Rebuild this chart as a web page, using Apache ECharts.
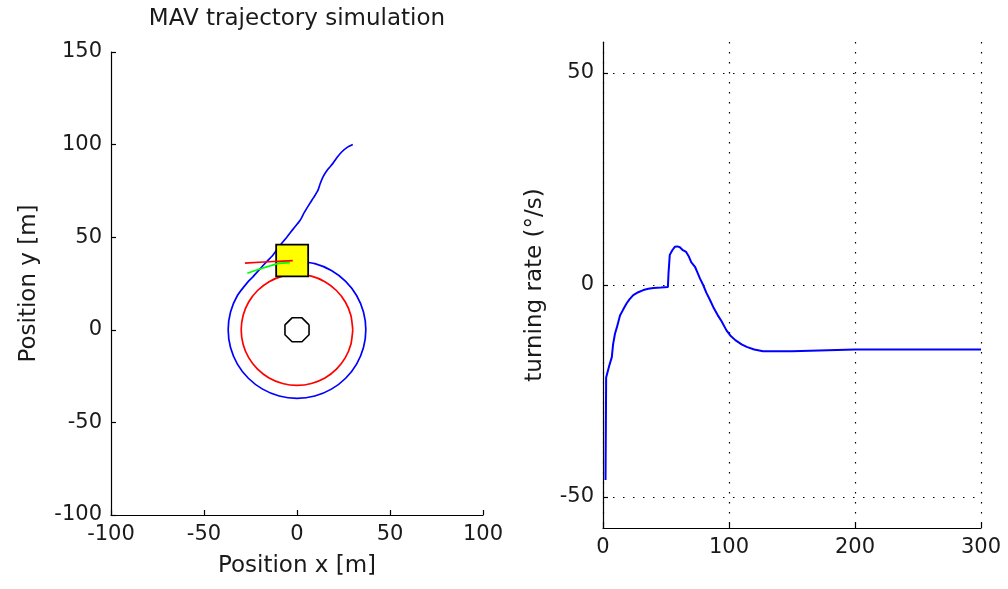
<!DOCTYPE html>
<html><head><meta charset="utf-8">
<script src="https://cdn.jsdelivr.net/npm/echarts@6/dist/echarts.min.js"></script>
<style>html,body{margin:0;padding:0;background:#fff}#c{width:1008px;height:589px}</style>
</head><body><div id="c"></div>
<script>
// ---- left plot: MAV trajectory (x, y in m) ----
const titleText = 'MAV trajectory simulation';
const leftXTicks = [-100, -50, 0, 50, 100];
const leftYTicks = [-100, -50, 0, 50, 100, 150];
// blue: approach trajectory then loiter circle (r ~ 37 m)
const trajectoryPath = [
  [30,100],[27,98.5],[24,96],[21.5,93],[19.4,90],[16.5,86.5],[14,82.6],[12.5,79],[11.3,75.4],[9,71.5],[7,68.4],[4,63.5],[1.6,59],
  [-2,54.5],[-5.5,50],[-8.2,46.7],[-12.9,40.4],[-18,35],[-23.6,28.7],
  [-26.16,26.16],[-32.04,18.5],[-35.74,9.58],[-37,0],[-35.74,-9.58],[-32.04,-18.5],
  [-26.16,-26.16],[-18.5,-32.04],[-9.58,-35.74],[0,-37],[9.58,-35.74],[18.5,-32.04],
  [26.16,-26.16],[32.04,-18.5],[35.74,-9.58],[37,0],[35.74,9.58],[32.04,18.5],
  [26.16,26.16],[18.5,32.04],[9.58,35.74],[0,37],[-2.6,37.3]
];
// red: reference circle (r = 30 m)
const referenceCircle = [
  [30,0],[28.98,7.76],[25.98,15],[21.21,21.21],[15,25.98],[7.76,28.98],[0,30],
  [-7.76,28.98],[-15,25.98],[-21.21,21.21],[-25.98,15],[-28.98,7.76],[-30,0],
  [-28.98,-7.76],[-25.98,-15],[-21.21,-21.21],[-15,-25.98],[-7.76,-28.98],[0,-30],
  [7.76,-28.98],[15,-25.98],[21.21,-21.21],[25.98,-15],[28.98,-7.76],[30,0]
];
// black: target at origin
const targetMarker = [
  [6.47,2.68],[2.68,6.47],[-2.68,6.47],[-6.47,2.68],[-6.47,-2.68],[-2.68,-6.47],
  [2.68,-6.47],[6.47,-2.68],[6.47,2.68]
];
// yellow square: MAV [centerX, centerY, halfSide]
const mavBody = [[-2.6, 37.4, 8.6]];
// red and green vectors from MAV
const headingVector = [[-2.3,37.3],[-10,37.0],[-18,36.6],[-28,36.0]];
const guidanceVector = [[-3.8,36.3],[-10,35.9],[-14.5,34.5],[-21.7,32.3],[-26.7,30.5]];

// ---- right plot: turning rate (deg/s) vs time ----
const rightXTicks = [0, 100, 200, 300];
const rightYTicks = [-50, 0, 50];
const timeSteps = [2,2.5,4,5,7,8,9.5,11,13.5,16,18.8,21,24,28,32,36,40,46,51.5,52,53,55,57,59,61,63,66,68,70,73,75,77,79.5,82,85,88,91,94,98,101,105,110,114,120,127,140,150,151,200,250,300];
const turningRate = [-46,-21.8,-21.5,-19,-17,-14,-11.5,-10,-7.2,-5.8,-4.3,-3.4,-2.4,-1.7,-1.2,-0.9,-0.7,-0.6,-0.5,2.8,7.1,8.2,9.0,9.1,8.9,8.3,7.8,6.8,5.4,4.3,2.9,1.5,0,-1.8,-3.6,-5.5,-7.1,-8.5,-10.7,-11.9,-13,-14,-14.6,-15.2,-15.6,-15.6,-15.6,-15.2,-15.2,-15.2,-15.2];

const FONT = 'DejaVu Sans';
const TXT = '#1a1a1a';
const rateData = timeSteps.map((t, i) => [t, turningRate[i]]);

function axisBase() {
  return {
    type: 'value',
    axisLine: { show: true, onZero: false, lineStyle: { color: '#000', width: 1.2 } },
    axisTick: { show: true, inside: true, length: 5, lineStyle: { color: '#000', width: 1.2 } },
    axisLabel: { color: TXT, fontFamily: FONT, fontSize: 21, margin: 9 },
    splitLine: { show: false },
    nameLocation: 'middle',
    nameTextStyle: { color: TXT, fontFamily: FONT, fontSize: 23 }
  };
}
const dotted = { show: true, lineStyle: { color: '#000', width: 1.2, type: [1.5, 8.5] } };

const chart = echarts.init(document.getElementById('c'), null, { renderer: 'canvas' });
chart.setOption({
  animation: false,
  backgroundColor: '#fff',
  graphic: [{
    type: 'text', x: 297, y: 8, z: 10,
    style: { text: titleText, align: 'center', verticalAlign: 'top', fill: TXT, font: '23px "DejaVu Sans"' }
  }],
  grid: [
    { left: 111, top: 52, width: 372, height: 463 },
    { left: 603, top: 42, width: 378, height: 486 }
  ],
  xAxis: [
    Object.assign(axisBase(), { gridIndex: 0, min: leftXTicks[0], max: leftXTicks[leftXTicks.length - 1], interval: 50, name: 'Position x [m]', nameGap: 40 }),
    Object.assign(axisBase(), { gridIndex: 1, min: rightXTicks[0], max: rightXTicks[rightXTicks.length - 1], interval: 100, splitLine: dotted })
  ],
  yAxis: [
    Object.assign(axisBase(), { gridIndex: 0, min: leftYTicks[0], max: leftYTicks[leftYTicks.length - 1], interval: 50, name: 'Position y [m]', nameGap: 70 }),
    (function () {
      const a = axisBase();
      a.gridIndex = 1; a.min = -57.3; a.max = 57.3;
      a.axisLabel.customValues = rightYTicks;
      a.axisTick.customValues = rightYTicks;
      a.splitLine = dotted;
      a.name = 'turning rate (°/s)'; a.nameGap = 56;
      return a;
    })()
  ],
  series: [
    { type: 'line', xAxisIndex: 0, yAxisIndex: 0, data: trajectoryPath, showSymbol: false, smooth: 0.2, lineStyle: { color: '#0000ff', width: 1.7 }, z: 2 },
    { type: 'line', xAxisIndex: 0, yAxisIndex: 0, data: referenceCircle, showSymbol: false, smooth: 0.2, lineStyle: { color: '#ff0000', width: 1.7 }, z: 2 },
    { type: 'line', xAxisIndex: 0, yAxisIndex: 0, data: targetMarker, showSymbol: false, lineStyle: { color: '#000', width: 1.6 }, z: 2 },
    {
      type: 'custom', xAxisIndex: 0, yAxisIndex: 0, data: mavBody, z: 4,
      renderItem: function (params, api) {
        const cx = api.value(0), cy = api.value(1), h = api.value(2);
        const p1 = api.coord([cx - h, cy + h]);
        const p2 = api.coord([cx + h, cy - h]);
        return { type: 'rect', shape: { x: p1[0], y: p1[1], width: p2[0] - p1[0], height: p2[1] - p1[1] },
                 style: { fill: '#ffff00', stroke: '#000', lineWidth: 1.8 } };
      }
    },
    { type: 'line', xAxisIndex: 0, yAxisIndex: 0, data: guidanceVector, showSymbol: false, lineStyle: { color: '#00ff00', width: 1.7 }, z: 6 },
    { type: 'line', xAxisIndex: 0, yAxisIndex: 0, data: headingVector, showSymbol: false, lineStyle: { color: '#ff0000', width: 1.7 }, z: 6 },
    { type: 'line', xAxisIndex: 1, yAxisIndex: 1, data: rateData, showSymbol: false, lineStyle: { color: '#0000ff', width: 2 }, z: 3 }
  ]
});
</script>
</body></html>
